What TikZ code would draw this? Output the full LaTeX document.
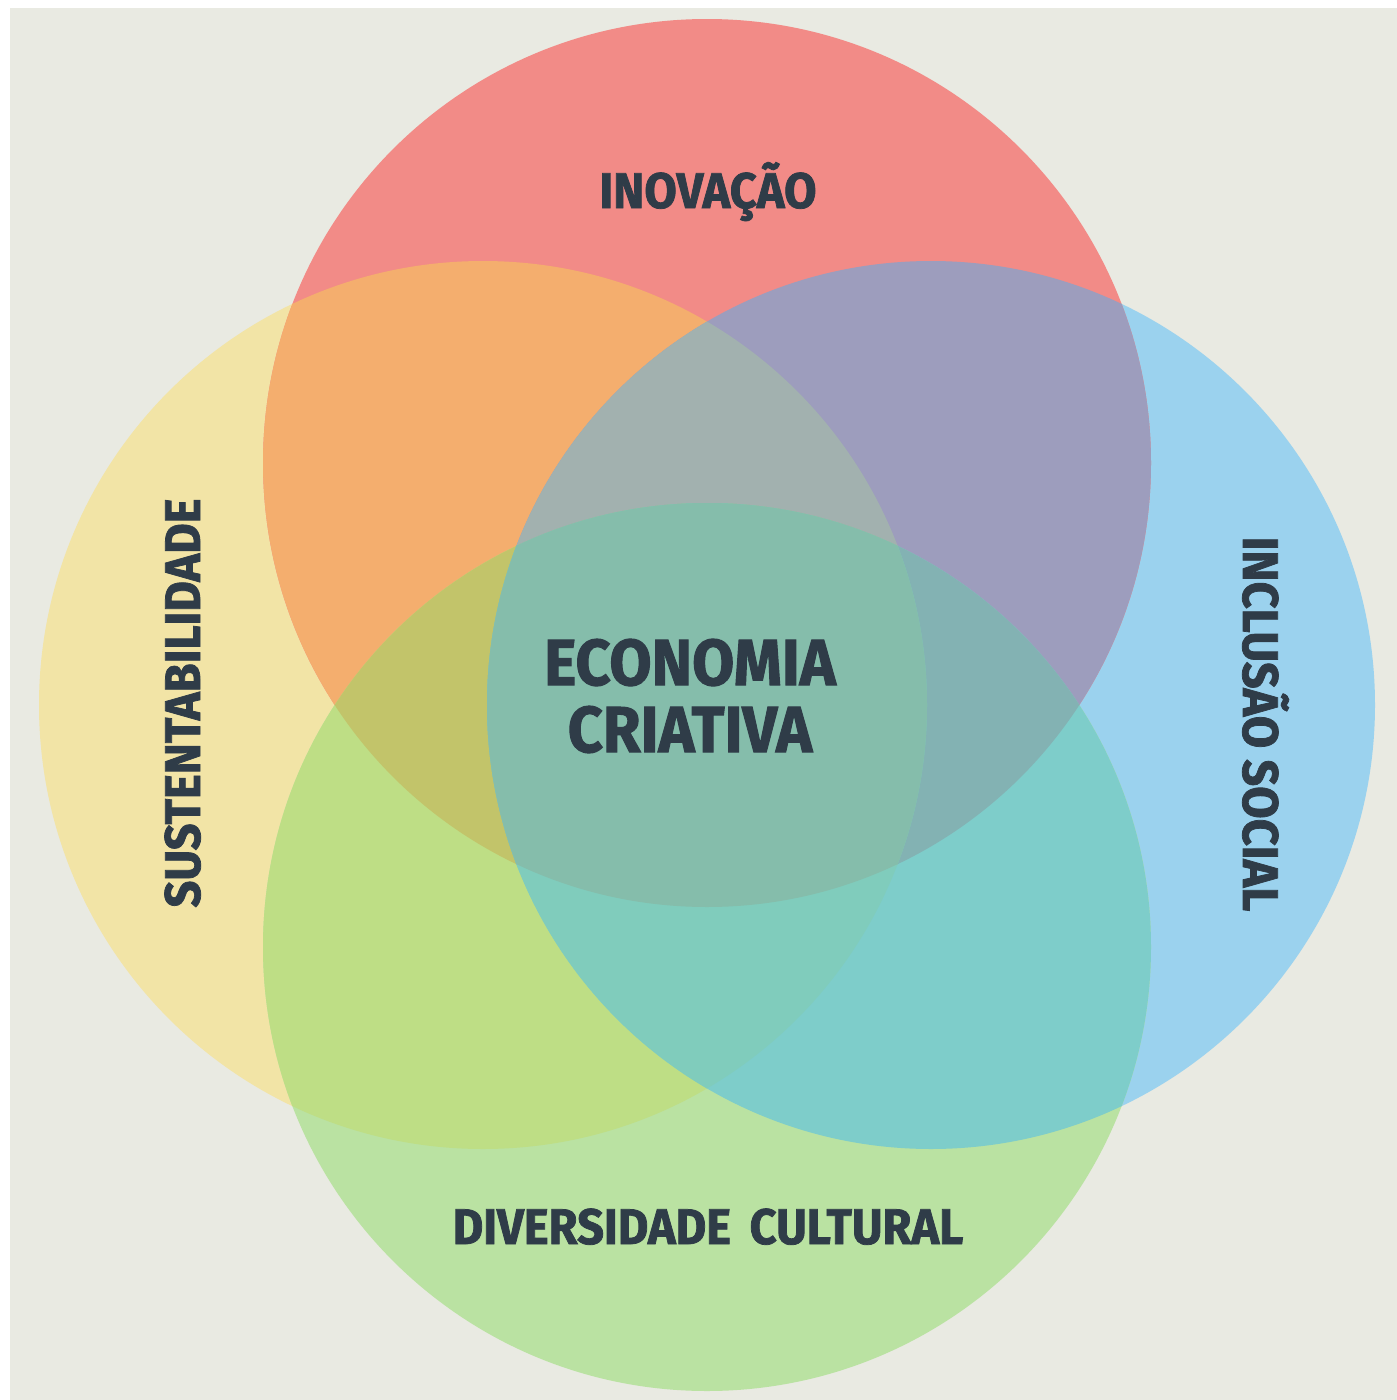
\documentclass[tikz,border=0pt]{standalone}
\usepackage{fontspec}
\setmainfont{Fira Sans}[FakeStretch=0.94, BoldFeatures={FakeBold=1.5}]
\definecolor{paperbg}{HTML}{E9EAE2}
\definecolor{slateink}{HTML}{2F3C48}
\definecolor{inovred}{HTML}{F28B87}
\definecolor{sustyellow}{HTML}{F2E4A6}
\definecolor{inclblue}{HTML}{9BD2EE}
\definecolor{divgreen}{HTML}{BAE2A2}
\definecolor{ryorange}{HTML}{F4AE6E}
\definecolor{rbpurple}{HTML}{9D9DBD}
\definecolor{yglime}{HTML}{BEDE85}
\definecolor{bgteal}{HTML}{7ECDCA}
\definecolor{rybgrey}{HTML}{A2B1AF}
\definecolor{rygolive}{HTML}{C2C46A}
\definecolor{rbgsteel}{HTML}{83B2B3}
\definecolor{ybgmint}{HTML}{80CCBC}
\definecolor{coregreen}{HTML}{85BDAB}

% circle outlines, in pixel units
\def\circInov{(707,463) circle (444)}
\def\circSust{(483,705) circle (444)}
\def\circIncl{(931,705) circle (444)}
\def\circDiv{(707,947) circle (444)}

\begin{document}
\begin{tikzpicture}[x=1pt, y=-1pt,
  tag/.style={text=slateink, inner sep=0pt, anchor=base,
    font=\bfseries\fontsize{50}{60}\selectfont},
]
  \useasboundingbox (0,0) rectangle (1397,1400);
  \fill[white] (0,0) rectangle (1397,1400);
  \fill[paperbg] (10,8) rectangle (1397,1400);

  % single circles
  \fill[sustyellow] \circSust;
  \fill[inclblue] \circIncl;
  \fill[inovred] \circInov;
  \fill[divgreen] \circDiv;

  % pairwise overlaps
  \begin{scope}
    \clip \circInov; \fill[ryorange] \circSust;
  \end{scope}
  \begin{scope}
    \clip \circInov; \fill[rbpurple] \circIncl;
  \end{scope}
  \begin{scope}
    \clip \circDiv; \fill[yglime] \circSust;
  \end{scope}
  \begin{scope}
    \clip \circDiv; \fill[bgteal] \circIncl;
  \end{scope}

  % triple overlaps
  \begin{scope}
    \clip \circInov; \clip \circSust; \fill[rybgrey] \circIncl;
  \end{scope}
  \begin{scope}
    \clip \circInov; \clip \circSust; \fill[rygolive] \circDiv;
  \end{scope}
  \begin{scope}
    \clip \circInov; \clip \circIncl; \fill[rbgsteel] \circDiv;
  \end{scope}
  \begin{scope}
    \clip \circSust; \clip \circIncl; \fill[ybgmint] \circDiv;
  \end{scope}

  % all four
  \begin{scope}
    \clip \circInov; \clip \circSust; \clip \circIncl; \fill[coregreen] \circDiv;
  \end{scope}

  % labels
  \node[tag] (inov) at (708,208) {INOVAÇÃO};
  \node[tag, rotate=90] (sust) at (200,703) {SUSTENTABILIDADE};
  \node[tag, rotate=-90] (incl) at (1243,724) {INCLUSÃO SOCIAL};
  \node[tag] (div) at (708,1244) {DIVERSIDADE\hspace{0.15em} CULTURAL};
  \node[text=slateink, inner sep=0pt, align=center,
    font=\bfseries\fontsize{65}{67}\selectfont] (econ) at (690,696)
    {ECONOMIA\\CRIATIVA};
\end{tikzpicture}
\end{document}
